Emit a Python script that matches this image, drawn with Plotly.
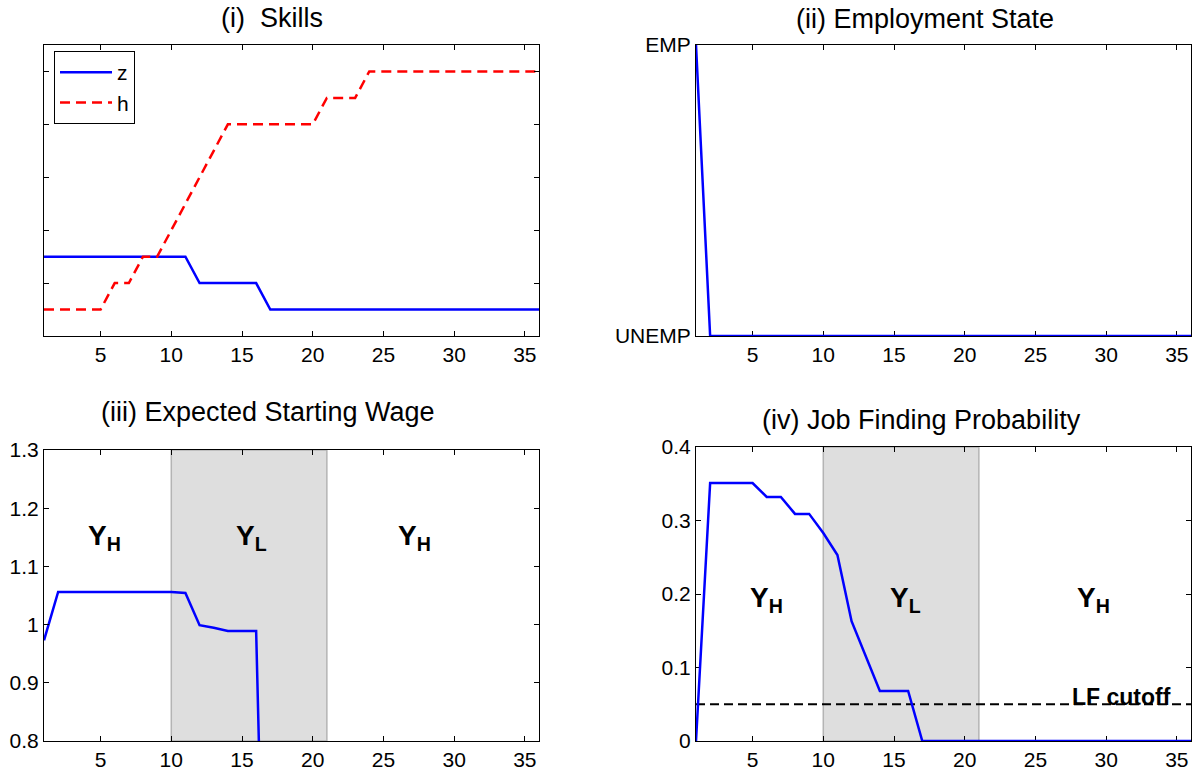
import plotly.graph_objects as go

# ---------------------------------------------------------------- data
months = list(range(1, 37))

# (i) skills
z_skill = [1.5, 1.5, 1.5, 1.5, 1.5, 1.5, 1.5, 1.5, 1.5, 1.5, 1.5,
           1.0, 1.0, 1.0, 1.0, 1.0,
           0.5, 0.5, 0.5, 0.5, 0.5, 0.5, 0.5, 0.5, 0.5, 0.5,
           0.5, 0.5, 0.5, 0.5, 0.5, 0.5, 0.5, 0.5, 0.5, 0.5]
h_skill = [0.5, 0.5, 0.5, 0.5, 0.5, 1.0, 1.0, 1.5, 1.5, 2.0, 2.5, 3.0,
           3.5, 4.0, 4.0, 4.0, 4.0, 4.0, 4.0, 4.0, 4.5, 4.5, 4.5, 5.0,
           5.0, 5.0, 5.0, 5.0, 5.0, 5.0, 5.0, 5.0, 5.0, 5.0, 5.0, 5.0]
skill_ticks = [0, 1, 2, 3, 4, 5]

# (ii) employment state (1 = employed, 0 = unemployed)
emp_state = [1, 0, 0, 0, 0, 0, 0, 0, 0, 0, 0, 0, 0, 0, 0, 0, 0, 0,
             0, 0, 0, 0, 0, 0, 0, 0, 0, 0, 0, 0, 0, 0, 0, 0, 0, 0]
emp_tickvals = [0, 1]
emp_ticktext = ["UNEMP", "EMP"]

# (iii) expected starting wage
start_wage = [0.973, 1.056, 1.056, 1.056, 1.056, 1.056, 1.0565, 1.057,
              1.057, 1.056, 1.0545, 0.999, 0.9945, 0.989, 0.989, 0.989,
              0, 0, 0, 0, 0, 0, 0, 0, 0, 0, 0, 0, 0, 0, 0, 0, 0, 0, 0, 0]
wage_ticks = [0.8, 0.9, 1.0, 1.1, 1.2, 1.3]
wage_ticktext = ["0.8", "0.9", "1", "1.1", "1.2", "1.3"]

# (iv) job finding probability
job_prob = [0, 0.351, 0.351, 0.351, 0.351, 0.332, 0.332, 0.309, 0.309,
            0.283, 0.253, 0.163, 0.115, 0.068, 0.068, 0.068,
            0, 0, 0, 0, 0, 0, 0, 0, 0, 0, 0, 0, 0, 0, 0, 0, 0, 0, 0, 0]
prob_ticks = [0, 0.1, 0.2, 0.3, 0.4]
prob_ticktext = ["0", "0.1", "0.2", "0.3", "0.4"]
lf_cutoff = 0.05

# low-productivity (Y_L) episode
recession_start, recession_end = 10, 21

month_ticks = [5, 10, 15, 20, 25, 30, 35]

# ---------------------------------------------------------------- layout helpers
W, H = 1195, 770
FONT = "Liberation Sans, Arial, Helvetica, sans-serif"


def fx(px):
    return px / W


def fy(px):
    return 1 - px / H


BLUE = "#0000ff"
RED = "#ff0000"

fig = go.Figure()

fig.add_trace(go.Scatter(x=months, y=z_skill, mode="lines", name="z",
                         line=dict(color=BLUE, width=2.5),
                         xaxis="x", yaxis="y"))
fig.add_trace(go.Scatter(x=months, y=h_skill, mode="lines", name="h",
                         line=dict(color=RED, width=2.5, dash="10px,6px"),
                         xaxis="x", yaxis="y"))
fig.add_trace(go.Scatter(x=months, y=emp_state, mode="lines", showlegend=False,
                         line=dict(color=BLUE, width=2.5),
                         xaxis="x2", yaxis="y2"))
fig.add_trace(go.Scatter(x=months, y=start_wage, mode="lines", showlegend=False,
                         line=dict(color=BLUE, width=2.5),
                         xaxis="x3", yaxis="y3"))
fig.add_trace(go.Scatter(x=[months[0], months[-1]], y=[lf_cutoff, lf_cutoff],
                         mode="lines", showlegend=False,
                         line=dict(color="black", width=2, dash="9px,5px"),
                         xaxis="x4", yaxis="y4"))
fig.add_trace(go.Scatter(x=months, y=job_prob, mode="lines", showlegend=False,
                         line=dict(color=BLUE, width=2.5),
                         xaxis="x4", yaxis="y4"))

axis_style = dict(showline=True, linecolor="black", linewidth=1, mirror="ticks",
                  ticks="inside", ticklen=5, tickcolor="black", tickwidth=1,
                  showgrid=False, zeroline=False, automargin=False,
                  tickfont=dict(family=FONT, size=21, color="black"))

left_dom = [fx(44), fx(539)]
right_dom = [fx(696), fx(1191)]
top_dom = [fy(336), fy(45)]

x_common = dict(axis_style, range=[1, 36], tickvals=month_ticks)

fig.update_layout(
    width=W, height=H, autosize=False,
    margin=dict(l=0, r=0, t=0, b=0, pad=0),
    paper_bgcolor="white", plot_bgcolor="white",
    font=dict(family=FONT, color="black"),
    xaxis=dict(x_common, domain=left_dom, anchor="y"),
    yaxis=dict(axis_style, domain=top_dom, anchor="x", range=[0, 5.5],
               tickvals=skill_ticks, showticklabels=False),
    xaxis2=dict(x_common, domain=right_dom, anchor="y2", layer="below traces"),
    yaxis2=dict(axis_style, domain=top_dom, anchor="x2", range=[0, 1],
                tickvals=emp_tickvals, ticktext=emp_ticktext, ticks="",
                layer="below traces"),
    xaxis3=dict(x_common, domain=left_dom, anchor="y3"),
    yaxis3=dict(axis_style, domain=[fy(741), fy(450)], anchor="x3",
                range=[0.8, 1.3], tickvals=wage_ticks, ticktext=wage_ticktext),
    xaxis4=dict(x_common, domain=right_dom, anchor="y4", layer="below traces"),
    yaxis4=dict(axis_style, domain=[fy(741), fy(447)], anchor="x4",
                range=[0, 0.4], tickvals=prob_ticks, ticktext=prob_ticktext,
                layer="below traces"),
    legend=dict(x=fx(54), y=fy(51), xanchor="left", yanchor="top",
                bgcolor="white", bordercolor="black", borderwidth=1,
                font=dict(family=FONT, size=21, color="black"),
                itemwidth=52, tracegroupgap=0),
)

# shaded Y_L episode in the lower panels
for xr, yr in (("x3", "y3 domain"), ("x4", "y4 domain")):
    fig.add_shape(type="rect", xref=xr, yref=yr,
                  x0=recession_start, x1=recession_end, y0=0, y1=1,
                  fillcolor="#dedede", line=dict(color="#b4b4b4", width=1.5),
                  layer="below")

# panel titles
titles = [("(i)\u00a0\u00a0Skills", 272, 18),
          ("(ii) Employment State", 925, 19),
          ("(iii) Expected Starting Wage", 268, 412),
          ("(iv) Job Finding Probability", 921, 420)]
for text, cx, cy in titles:
    fig.add_annotation(text=text, xref="paper", yref="paper", x=fx(cx), y=fy(cy),
                       xanchor="center", yanchor="middle", showarrow=False,
                       font=dict(family=FONT, size=27, color="black"))

# productivity state labels
YH = "<b>Y<sub>H</sub></b>"
YL = "<b>Y<sub>L</sub></b>"
state_labels = [("x3", "y3", 5.3, 1.149, YH), ("x3", "y3", 15.7, 1.149, YL),
                ("x3", "y3", 27.2, 1.149, YH),
                ("x4", "y4", 6.0, 0.193, YH), ("x4", "y4", 15.8, 0.193, YL),
                ("x4", "y4", 29.1, 0.193, YH)]
for xr, yr, xv, yv, text in state_labels:
    fig.add_annotation(text=text, xref=xr, yref=yr, x=xv, y=yv,
                       xanchor="center", yanchor="middle", showarrow=False,
                       font=dict(family=FONT, size=28, color="black"))

fig.add_annotation(text="<b>LF cutoff</b>", xref="x4", yref="y4", x=31.1, y=0.060,
                   xanchor="center", yanchor="middle", showarrow=False,
                   font=dict(family=FONT, size=23, color="black"))

fig.write_html("out.html")
